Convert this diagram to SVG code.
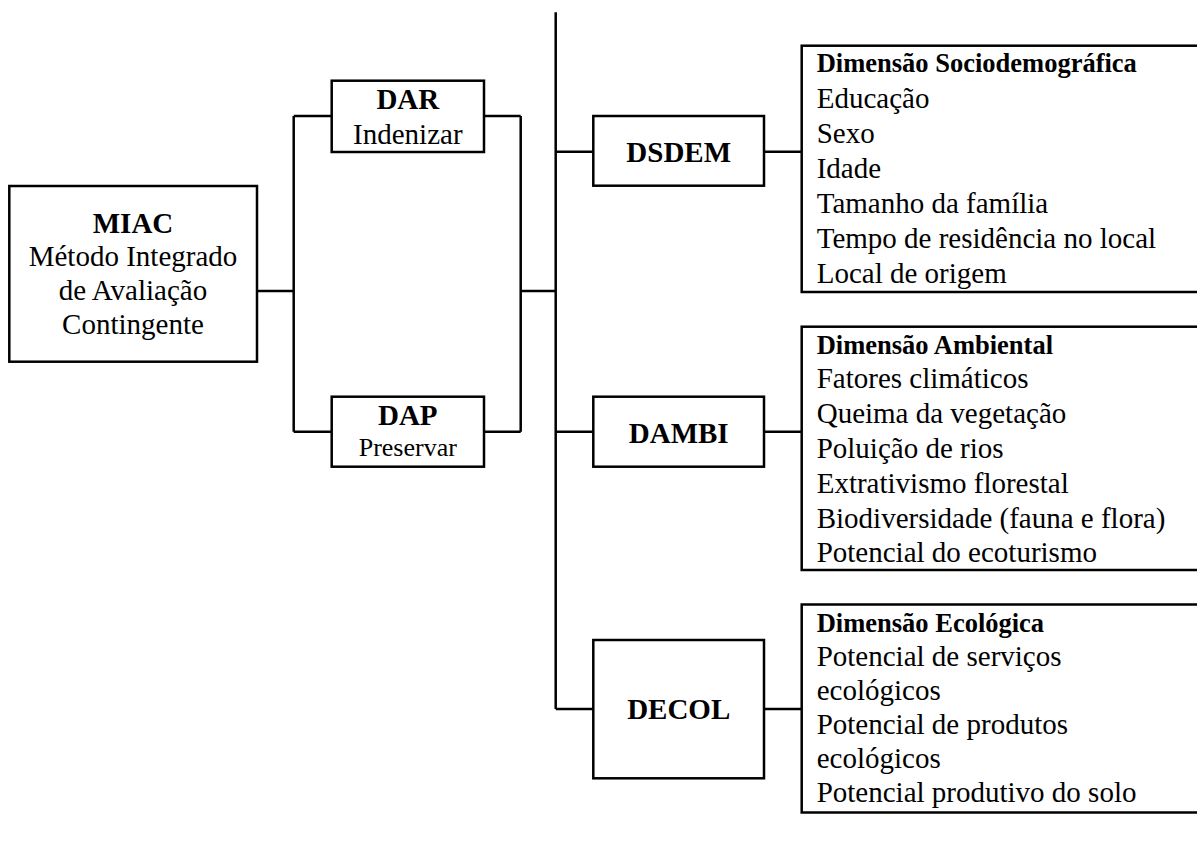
<svg xmlns="http://www.w3.org/2000/svg" width="1197" height="843" viewBox="0 0 1197 843">
<style>
.box{fill:#fff;stroke:#000;stroke-width:2.5}
.ln{fill:none;stroke:#000;stroke-width:2.5}
text{font-family:"Liberation Serif","Times New Roman",serif;fill:#000}
.t{font-size:29px}
.b{font-size:29px;font-weight:bold}
.h{font-size:26.5px;font-weight:bold}
.c{text-anchor:middle}
.s{font-size:26px}
</style>
<rect width="1197" height="843" fill="#fff"/>
<g id="connectors">
<path class="ln" d="M257 291H293.7M293.7 116V431.7M293.7 116H331.7M293.7 431.7H331.7M484 116H520.7M484 431.7H520.7M520.7 116V431.7M520.7 291H555.7M555.7 12.3V709M555.7 151.7H593.3M555.7 431.7H593.3M555.7 709H593.3M764 151.7H801.7M764 431.7H801.7M764 709H801.7"/>
</g>
<g id="miac">
<rect class="box" x="9.3" y="186" width="247.7" height="175.7"/>
<text class="b c" x="133" y="233.3">MIAC</text>
<text class="t c" x="133" y="266">Método Integrado</text>
<text class="t c" x="133" y="299.5">de Avaliação</text>
<text class="t c" x="133" y="334">Contingente</text>
</g>
<g id="dar">
<rect class="box" x="331.7" y="80.7" width="152.3" height="71.3"/>
<text class="b c" x="407.8" y="109">DAR</text>
<text class="t c" x="407.8" y="144">Indenizar</text>
</g>
<g id="dap">
<rect class="box" x="331.7" y="396.7" width="152.3" height="70"/>
<text class="b c" x="407.8" y="425">DAP</text>
<text class="s c" x="407.8" y="456">Preservar</text>
</g>
<g id="dsdem">
<rect class="box" x="593.3" y="116" width="170.7" height="69.7"/>
<text class="b c" x="678.7" y="162.3">DSDEM</text>
</g>
<g id="dambi">
<rect class="box" x="593.3" y="396.7" width="170.7" height="70"/>
<text class="b c" x="678.7" y="442.7">DAMBI</text>
</g>
<g id="decol">
<rect class="box" x="593.3" y="640" width="170.7" height="138.3"/>
<text class="b c" x="678.7" y="719.3">DECOL</text>
</g>
<g id="dim-sociodemografica">
<rect class="box" x="801.7" y="45.7" width="420" height="246.3"/>
<text class="h" x="816.7" y="71.7">Dimensão Sociodemográfica</text>
<text class="t" x="816.7" y="108.3">Educação</text>
<text class="t" x="816.7" y="143.3">Sexo</text>
<text class="t" x="816.7" y="178.3">Idade</text>
<text class="t" x="816.7" y="213.3">Tamanho da família</text>
<text class="t" x="816.7" y="248.3">Tempo de residência no local</text>
<text class="t" x="816.7" y="283.3">Local de origem</text>
</g>
<g id="dim-ambiental">
<rect class="box" x="801.7" y="326.7" width="420" height="243.3"/>
<text class="h" x="816.7" y="354.3">Dimensão Ambiental</text>
<text class="t" x="816.7" y="388.3">Fatores climáticos</text>
<text class="t" x="816.7" y="423.3">Queima da vegetação</text>
<text class="t" x="816.7" y="458.3">Poluição de rios</text>
<text class="t" x="816.7" y="493.3">Extrativismo florestal</text>
<text class="t" x="816.7" y="528.3">Biodiversidade (fauna e flora)</text>
<text class="t" x="816.7" y="562">Potencial do ecoturismo</text>
</g>
<g id="dim-ecologica">
<rect class="box" x="801.7" y="604.5" width="420" height="208"/>
<text class="h" x="816.7" y="632">Dimensão Ecológica</text>
<text class="t" x="816.7" y="666.3">Potencial de serviços</text>
<text class="t" x="816.7" y="699.5">ecológicos</text>
<text class="t" x="816.7" y="733.5">Potencial de produtos</text>
<text class="t" x="816.7" y="767.5">ecológicos</text>
<text class="t" x="816.7" y="801.7">Potencial produtivo do solo</text>
</g>
</svg>
